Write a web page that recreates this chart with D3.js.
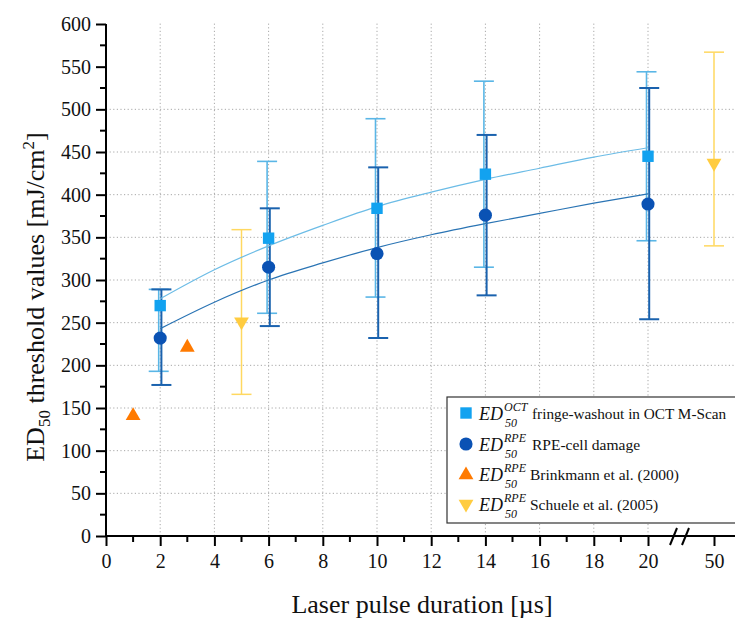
<!DOCTYPE html>
<html><head><meta charset="utf-8">
<script src="https://cdn.jsdelivr.net/npm/d3@7/dist/d3.min.js"></script>
<style>body{margin:0;background:#fff}svg{display:block}</style>
</head><body><svg id="c" width="735" height="627"></svg>
<script>
// ---- data ----
const octX = [2, 6, 10, 14, 20];
const octY = [270, 349, 384, 424, 445];
const octLo = [193, 261, 280, 315, 346];
const octHi = [289, 439, 489, 533, 544];

const rpeX = [2, 6, 10, 14, 20];
const rpeY = [232, 315, 331, 376, 389];
const rpeLo = [177, 246, 232, 282, 254];
const rpeHi = [289, 384, 432, 470, 525];

const brinkX = [1, 3];
const brinkY = [141, 221];

const schueleX = [5, 50];
const schueleY = [251, 437];
const schueleLo = [166, 340];
const schueleHi = [359, 567];

// fitted curves
const fitX = [2, 4, 6, 8, 10, 12, 14, 16, 18, 20];
const fitOct = [278, 312, 340, 364, 386, 403, 418, 431, 444, 455];
const fitRpe = [243, 274, 300, 320, 338, 353, 366, 378, 390, 401];

const xMajor = [0, 2, 4, 6, 8, 10, 12, 14, 16, 18, 20, 50];
const xMinor = [1, 3, 5, 7, 9, 11, 13, 15, 17, 19];
const yTicks = [0, 50, 100, 150, 200, 250, 300, 350, 400, 450, 500, 550, 600];
const yMinor = [25, 75, 125, 175, 225, 275, 325, 375, 425, 475, 525, 575];
const yGrid = [50, 100, 150, 200, 250, 300, 350, 400, 450, 500];
const xGrid = [2, 4, 6, 8, 10, 12, 14, 16, 18, 20];

const legendItems = [
  {sym: "square", sup: "OCT", text: "fringe-washout in OCT M-Scan"},
  {sym: "circle", sup: "RPE", text: "RPE-cell damage"},
  {sym: "up", sup: "RPE", text: "Brinkmann et al. (2000)"},
  {sym: "down", sup: "RPE", text: "Schuele et al. (2005)"}
];

// ---- colours ----
const cOct = "#12a2f0", cOctBar = "#5ab6e6", cOctFit = "#6cbce6";
const cRpe = "#0a52b4", cRpeBar = "#1a62ae", cRpeFit = "#2a74b4";
const cOrange = "#ff7a00", cYellow = "#ffcc40", cYellowBar = "#ffd860";
const FONT = "'Liberation Serif', 'Times New Roman', serif";

const svg = d3.select("#c");
const X0 = 106, Y0 = 536;
const x = d3.scaleLinear().domain([0, 20, 50]).range([X0, 648, 714]);
const y = d3.scaleLinear().domain([0, 600]).range([Y0, 24]);

// grid
const g = svg.append("g");
g.selectAll(".hg").data(yGrid).join("line")
  .attr("x1", X0).attr("x2", 735).attr("y1", d => y(d)).attr("y2", d => y(d))
  .attr("stroke", "#a8a8a8").attr("stroke-width", 1).attr("stroke-dasharray", "1.2,2.4");
g.selectAll(".vg").data(xGrid).join("line")
  .attr("x1", d => x(d)).attr("x2", d => x(d)).attr("y1", Y0).attr("y2", 22)
  .attr("stroke", "#a8a8a8").attr("stroke-width", 1).attr("stroke-dasharray", "1.2,2.4");

// axes
const yAxis = d3.axisLeft(y).tickValues(yTicks).tickSize(10).tickPadding(5);
const ya = svg.append("g").attr("transform", `translate(${X0},0)`).call(yAxis);
ya.select(".domain").attr("stroke", "#000").attr("stroke-width", 2).attr("d", `M0,${Y0+1}V${y(600)}`);
ya.selectAll(".tick line").attr("stroke-width", 2);
ya.selectAll(".tick text").attr("font-size", 20).attr("fill", "#111");
svg.append("g").selectAll("line").data(yMinor).join("line")
  .attr("x1", X0 - 6).attr("x2", X0).attr("y1", d => y(d)).attr("y2", d => y(d))
  .attr("stroke", "#000").attr("stroke-width", 2);

const xAxis = d3.axisBottom(x).tickValues(xMajor).tickSize(10).tickPadding(8).tickFormat(d3.format("d"));
const xa = svg.append("g").attr("transform", `translate(0,${Y0})`).call(xAxis);
xa.select(".domain").attr("stroke", "#000").attr("stroke-width", 2).attr("d", `M${X0-1},0H735`);
xa.selectAll(".tick line").attr("stroke-width", 2);
xa.selectAll(".tick text").attr("font-size", 20).attr("fill", "#111");
svg.append("g").selectAll("line").data(xMinor).join("line")
  .attr("x1", d => x(d)).attr("x2", d => x(d)).attr("y1", Y0).attr("y2", Y0 + 6)
  .attr("stroke", "#000").attr("stroke-width", 2);
// axis break marks
const brk = svg.append("g").attr("stroke", "#000").attr("stroke-width", 2);
brk.append("line").attr("x1", 670).attr("y1", Y0 + 9).attr("x2", 677).attr("y2", Y0 - 8);
brk.append("line").attr("x1", 682).attr("y1", Y0 + 9).attr("x2", 689).attr("y2", Y0 - 8);

// axis titles
const yt = svg.append("text").attr("transform", `translate(44,297) rotate(-90)`)
  .attr("text-anchor", "middle").attr("font-size", 26).attr("fill", "#111");
yt.append("tspan").text("ED");
yt.append("tspan").attr("font-size", 17).attr("dy", 6).text("50");
yt.append("tspan").attr("dy", -6).text(" threshold values [mJ/cm");
yt.append("tspan").attr("font-size", 17).attr("dy", -10).text("2");
yt.append("tspan").attr("dy", 10).text("]");
svg.append("text").attr("x", 422).attr("y", 613).attr("text-anchor", "middle")
  .attr("font-size", 26).attr("fill", "#111").text("Laser pulse duration [\u00b5s]");

// error bars helper
function errBars(xs, lo, hi, color, w, dx, cap) {
  const e = svg.append("g").attr("stroke", color).attr("stroke-width", w);
  xs.forEach((d, i) => {
    const px = x(d) + dx;
    e.append("line").attr("x1", px).attr("x2", px).attr("y1", y(lo[i])).attr("y2", y(hi[i]));
    e.append("line").attr("x1", px - cap).attr("x2", px + cap).attr("y1", y(lo[i])).attr("y2", y(lo[i]));
    e.append("line").attr("x1", px - cap).attr("x2", px + cap).attr("y1", y(hi[i])).attr("y2", y(hi[i]));
  });
}
errBars(schueleX, schueleLo, schueleHi, cYellowBar, 1.5, 0, 10);
errBars(octX, octLo, octHi, cOctBar, 1.6, -1.5, 10);
errBars(rpeX, rpeLo, rpeHi, cRpeBar, 2, 1.2, 10);

// fit curves
const line = d3.line().x(d => x(d[0])).y(d => y(d[1])).curve(d3.curveMonotoneX);
svg.append("path").attr("d", line(fitX.map((d, i) => [d, fitOct[i]])))
  .attr("fill", "none").attr("stroke", cOctFit).attr("stroke-width", 1.2);
svg.append("path").attr("d", line(fitX.map((d, i) => [d, fitRpe[i]])))
  .attr("fill", "none").attr("stroke", cRpeFit).attr("stroke-width", 1.2);

// markers
const sym = {
  square: d3.symbol().type(d3.symbolSquare).size(130),
  circle: d3.symbol().type(d3.symbolCircle).size(135),
  up: d3.symbol().type(d3.symbolTriangle).size(95),
};
svg.append("g").selectAll("path").data(octX).join("path")
  .attr("d", sym.square()).attr("fill", cOct)
  .attr("transform", (d, i) => `translate(${x(d)},${y(octY[i])})`);
svg.append("g").selectAll("path").data(rpeX).join("path")
  .attr("d", sym.circle()).attr("fill", cRpe)
  .attr("transform", (d, i) => `translate(${x(d)},${y(rpeY[i])})`);
svg.append("g").selectAll("path").data(brinkX).join("path")
  .attr("d", sym.up()).attr("fill", cOrange)
  .attr("transform", (d, i) => `translate(${x(d)},${y(brinkY[i])})`);
svg.append("g").selectAll("path").data(schueleX).join("path")
  .attr("d", sym.up()).attr("fill", cYellow)
  .attr("transform", (d, i) => `translate(${x(d)},${y(schueleY[i])}) rotate(180)`);

// legend
const lg = svg.append("g");
lg.append("rect").attr("x", 447).attr("y", 397).attr("width", 300).attr("height", 126)
  .attr("fill", "#fff").attr("stroke", "#333").attr("stroke-width", 1.2);
const rowY = [413, 444, 474, 504];
const symColor = [cOct, cRpe, cOrange, cYellow];
const labels = [];
legendItems.forEach((it, i) => {
  const cy = rowY[i];
  let t = it.sym === "down" ? "up" : it.sym;
  lg.append("path").attr("d", sym[t]()).attr("fill", symColor[i])
    .attr("transform", `translate(466,${cy + (it.sym === "up" ? 1 : 0)})${it.sym === "down" ? " rotate(180)" : ""}`);
  lg.append("text").attr("x", 479).attr("y", cy + 7).attr("font-size", 18)
    .attr("font-style", "italic").attr("fill", "#111").text("ED");
  lg.append("text").attr("x", 504).attr("y", cy - 2).attr("font-size", 12)
    .attr("font-style", "italic").attr("fill", "#111").text(it.sup);
  lg.append("text").attr("x", 505).attr("y", cy + 14).attr("font-size", 12)
    .attr("font-style", "italic").attr("fill", "#111").text("50");
  labels.push(lg.append("text").attr("x", i < 2 ? 532 : 530).attr("y", cy + 6).attr("font-size", 15.5)
    .attr("fill", "#111").text(it.text));
});

svg.selectAll("text").style("font-family", FONT);
svg.selectAll("g").filter(function(){ return this.hasAttribute("font-family"); }).attr("font-family", FONT);
// keep the longest legend label inside the frame
labels.forEach(l => {
  const maxW = 729 - (+l.attr("x"));
  let fs = 15.5;
  while (l.node().getComputedTextLength() > maxW && fs > 12) {
    fs -= 0.25;
    l.attr("font-size", fs);
  }
});
</script></body></html>
